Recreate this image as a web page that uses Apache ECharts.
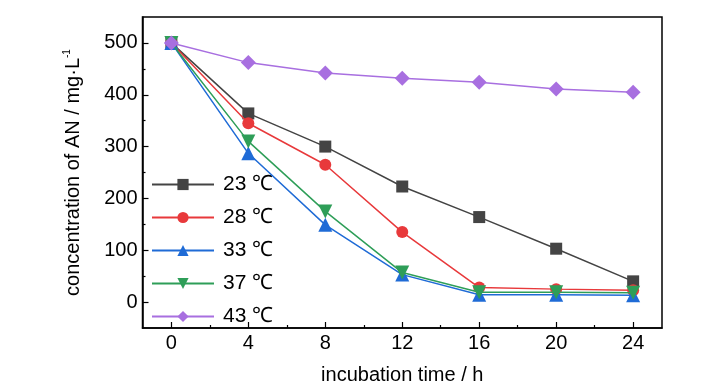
<!DOCTYPE html>
<html>
<head>
<meta charset="utf-8">
<script src="https://cdn.jsdelivr.net/npm/echarts@6/dist/echarts.min.js"></script>
<style>html,body{margin:0;padding:0;background:#fff}#c{width:728px;height:390px}</style>
</head>
<body>
<div id="c"></div>
<script>
const hours = [0, 4, 8, 12, 16, 20, 24];
const s23 = [500, 364, 300, 223, 164, 103, 40];
const s28 = [500, 345, 265, 135, 28, 25, 23];
const s33 = [500, 287, 149, 53, 14, 14, 13];
const s37 = [500, 310, 175, 57, 19, 19, 18];
const s43 = [500, 462, 442, 432, 424, 411, 405];
const seriesNames = ['23 ℃', '28 ℃', '33 ℃', '37 ℃', '43 ℃'];
const xTicks = [0, 4, 8, 12, 16, 20, 24];
const xMinor = [2, 6, 10, 14, 18, 22];
const yTicks = [0, 100, 200, 300, 400, 500];
const yMinor = [50, 150, 250, 350, 450];

const FONT = '"Liberation Sans Narrow", "Liberation Sans", Arial, sans-serif';
const colors = ['#444444', '#e8393b', '#1f6bd6', '#2e9e58', '#a86fe0'];
const symbols = ['rect', 'circle', 'triangle', 'triangle', 'diamond'];
const rotates = [0, 0, 0, 180, 0];
const sizes = [12, 12, 14, 14, 15];
const datas = [s23, s28, s33, s37, s43];

const chart = echarts.init(document.getElementById('c'), null, {renderer: 'canvas'});
const series = datas.map((d, i) => ({
  name: seriesNames[i],
  type: 'line',
  xAxisIndex: 0,
  yAxisIndex: 0,
  data: d.map((v, j) => [hours[j], v]),
  symbol: symbols[i],
  symbolRotate: rotates[i],
  symbolSize: sizes[i],
  showAllSymbol: true,
  lineStyle: {color: colors[i], width: 1.5},
  itemStyle: {color: colors[i]},
  z: 2 + i
}));

chart.setOption({
  animation: false,
  grid: {left: 142.5, right: 66, top: 17, bottom: 61, show: true, borderColor: '#000', borderWidth: 1.5, backgroundColor: 'transparent'},
  legend: {
    orient: 'vertical',
    left: 146,
    top: 169,
    itemWidth: 62,
    itemHeight: 14,
    itemGap: 12,
    data: seriesNames,
    textStyle: {fontFamily: FONT, fontSize: 21, color: '#000', lineHeight: 20, padding: [0, 0, 0, 4]}
  },
  xAxis: [{
    type: 'value', min: -1.5, max: 25.5, position: 'bottom',
    axisLine: {show: true, onZero: false, lineStyle: {color: '#000', width: 1.5}},
    axisTick: {show: true, inside: true, length: 6, customValues: xTicks, lineStyle: {color: '#000', width: 1.2}},
    axisLabel: {customValues: xTicks, fontFamily: FONT, fontSize: 20, color: '#000', margin: 5},
    splitLine: {show: false},
    name: 'incubation time / h', nameLocation: 'middle', nameGap: 37,
    nameTextStyle: {fontFamily: FONT, fontSize: 20, color: '#000'}
  }, {
    type: 'value', min: -1.5, max: 25.5, position: 'bottom', gridIndex: 0,
    axisLine: {show: false, onZero: false},
    axisTick: {show: true, inside: true, length: 3, customValues: xMinor, lineStyle: {color: '#000', width: 1.2}},
    axisLabel: {show: false, customValues: xMinor},
    splitLine: {show: false}
  }],
  yAxis: [{
    type: 'value', min: -50, max: 550, position: 'left',
    axisLine: {show: true, onZero: false, lineStyle: {color: '#000', width: 1.5}},
    axisTick: {show: true, inside: true, length: 6, customValues: yTicks, lineStyle: {color: '#000', width: 1.2}},
    axisLabel: {customValues: yTicks, fontFamily: FONT, fontSize: 20, color: '#000', margin: 5},
    splitLine: {show: false},
    name: 'concentration of AN / mg·L{sup|-1}', nameLocation: 'middle', nameGap: 58, nameRotate: 90,
    nameTextStyle: {fontFamily: FONT, fontSize: 20, color: '#000',
      rich: {sup: {fontFamily: FONT, fontSize: 10, color: '#000', verticalAlign: 'top', padding: [0, 0, 12, 0]}}}
  }, {
    type: 'value', min: -50, max: 550, position: 'left', gridIndex: 0,
    axisLine: {show: false, onZero: false},
    axisTick: {show: true, inside: true, length: 3, customValues: yMinor, lineStyle: {color: '#000', width: 1.2}},
    axisLabel: {show: false, customValues: yMinor},
    splitLine: {show: false}
  }],
  series: series
});
</script>
</body>
</html>
